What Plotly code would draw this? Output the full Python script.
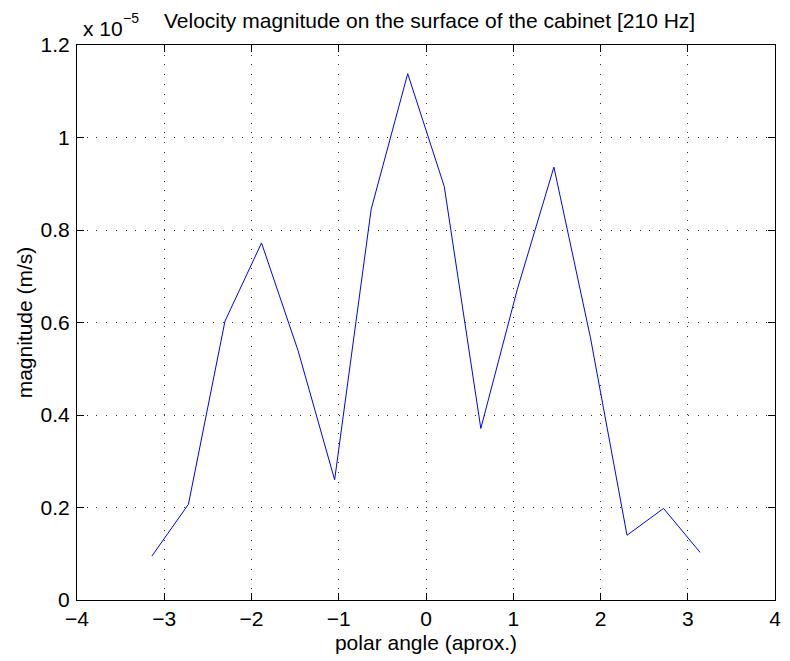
import plotly.graph_objects as go

# polar angle samples (radians, approx. -pi..pi in 16 steps)
angle = [-3.1416, -2.7227, -2.3038, -1.8850, -1.4661, -1.0472, -0.6283, -0.2094,
         0.2094, 0.6283, 1.0472, 1.4661, 1.8850, 2.3038, 2.7227, 3.1416]
# velocity magnitude in units of 1e-5 m/s
magnitude_e5 = [0.095, 0.207, 0.603, 0.772, 0.539, 0.260, 0.845, 1.138,
                0.894, 0.371, 0.672, 0.936, 0.567, 0.140, 0.198, 0.103]
x_ticks = [-4, -3, -2, -1, 0, 1, 2, 3, 4]
y_ticks = [0, 0.2, 0.4, 0.6, 0.8, 1.0, 1.2]
y_tick_text = ["0", "0.2", "0.4", "0.6", "0.8", "1", "1.2"]

FONT = "Liberation Sans, Arial, Helvetica, sans-serif"
FS = 21

fig = go.Figure()
fig.add_trace(go.Scatter(x=angle, y=magnitude_e5, mode="lines",
                         line=dict(color="#0000ff", width=1), showlegend=False))

axis_common = dict(
    showline=True, linecolor="black", linewidth=1, mirror="ticks",
    ticks="inside", ticklen=7, tickcolor="black", tickwidth=1,
    showgrid=True, gridcolor="#333333", gridwidth=1, griddash="1px,8.7px",
    zeroline=False, tickfont=dict(family=FONT, size=FS, color="black"),
    ticklabeloverflow="allow",
)

fig.update_xaxes(range=[-4, 4], tickvals=x_ticks, ticklabelstandoff=0,
                 title=dict(text="polar angle (aprox.)", font=dict(family=FONT, size=FS, color="black"), standoff=6),
                 **axis_common)
fig.update_yaxes(range=[0, 1.2], tickvals=y_ticks, ticktext=y_tick_text, ticklabelstandoff=2,
                 title=dict(text="magnitude (m/s)", font=dict(family=FONT, size=FS, color="black"), standoff=2),
                 **axis_common)

fig.add_annotation(text="x 10", xref="paper", yref="paper",
                   x=0, y=1.0, xanchor="left", yanchor="middle", xshift=4, yshift=17, showarrow=False,
                   font=dict(family=FONT, size=FS, color="black"))
fig.add_annotation(text="\u22125", xref="paper", yref="paper",
                   x=0, y=1.0, xanchor="left", yanchor="middle", xshift=44, yshift=27, showarrow=False,
                   font=dict(family=FONT, size=14, color="black"))
fig.add_annotation(text="Velocity magnitude on the surface of the cabinet [210 Hz]",
                   xref="paper", yref="paper", x=0.5, y=1.0, xanchor="center",
                   yanchor="middle", xshift=3, yshift=25, showarrow=False,
                   font=dict(family=FONT, size=FS, color="black"))

# the page body adds an 8px offset, so the figure is 8px smaller than the window
fig.update_layout(
    width=782, height=653,
    margin=dict(l=69, r=9, t=37, b=61),
    paper_bgcolor="white", plot_bgcolor="white",
    font=dict(family=FONT, size=FS, color="black"),
)

fig.write_html("out.html")
